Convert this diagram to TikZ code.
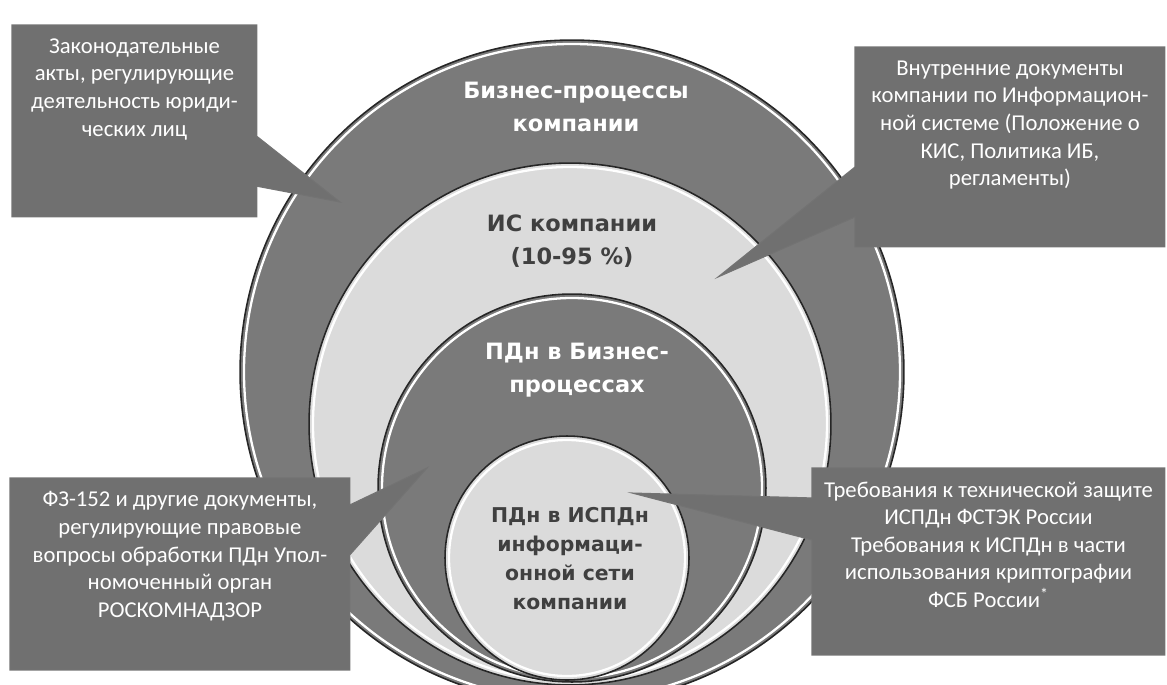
\documentclass[tikz,border=0pt]{standalone}
\usepackage{fontspec}
\setmainfont{Carlito}
\newfontfamily\ringfont{DejaVu Sans}
\usetikzlibrary{positioning,calc}
\definecolor{ringdark}{gray}{0.48}
\definecolor{ringlight}{gray}{0.86}
\definecolor{boxgray}{gray}{0.44}
\definecolor{textdark}{gray}{0.25}
\tikzset{
  disc/.style={circle, draw=black!85, line width=0.9pt, inner sep=0pt, outer sep=0pt},
  glint/.style={white, line width=1.3pt},
  callout/.style={fill=boxgray, draw=black!55, line width=0.6pt},
  boxframe/.style={rectangle, inner sep=0pt, outer sep=0pt, anchor=north west},
  boxtext/.style={text=white, align=center, font=\fontsize{12.9}{15.7}\selectfont},
  ringtext/.style={align=center, font=\ringfont\bfseries\fontsize{12.8}{18.5}\selectfont}
}
\newcommand{\ring}[5]{\node(#1)[disc, fill=#2, minimum size=#3] at (#4) {};
  \draw[glint] (#1.center) circle (#5);}

\begin{document}
\begin{tikzpicture}[x=0.02cm, y=-0.02cm, node distance=0.15cm]
\useasboundingbox (0,0) rectangle (1167,684);
\clip (0,0) rectangle (1167,684);

\ring{bp}{ringdark}{13.28cm}{572,372}{328}
\ring{is}{ringlight}{10.44cm}{570,424}{257}
\ring{pdbp}{ringdark}{7.76cm}{572,488}{190}
\ring{pdis}{ringlight}{4.88cm}{567,558}{118}

\node(bptext)[ringtext, text=white] at (576,107) {Бизнес-процессы\\компании};
\node(istext)[ringtext, text=textdark] at (572,241) {ИС компании\\(10-95 \%)};
\node(pdbptext)[ringtext, text=white] at (577,370) {ПДн в Бизнес-\\процессах};
\node(pdistext)[ringtext, text=textdark, font=\ringfont\bfseries\fontsize{11.6}{16.5}\selectfont] at (570,559)
  {ПДн в ИСПДн\\информаци-\\онной сети\\компании};

\node(lawbox)[boxframe, minimum width=4.9cm, minimum height=3.84cm] at (12,25) {};
\node(docbox)[boxframe, minimum width=6.2cm, minimum height=4cm] at (855,47) {};
\node(fzbox)[boxframe, minimum width=6.8cm, minimum height=3.84cm] at (10,478) {};
\node(techbox)[boxframe, minimum width=7.06cm, minimum height=3.74cm] at (812,468) {};

\coordinate(lawtip) at (340,202);
\coordinate(doctip) at (718,277);
\coordinate(fztip) at (427,468);
\coordinate(techtip) at (632,493);

\filldraw[callout] (lawbox.north west) -- (lawbox.north east)
  -- ($(lawbox.north east)!0.58!(lawbox.south east)$) -- (lawtip)
  -- ($(lawbox.north east)!0.84!(lawbox.south east)$)
  -- (lawbox.south east) -- (lawbox.south west) -- cycle;
\filldraw[callout] (docbox.north west) -- (docbox.north east)
  -- (docbox.south east) -- (docbox.south west)
  -- ($(docbox.north west)!0.85!(docbox.south west)$) -- (doctip)
  -- ($(docbox.north west)!0.6!(docbox.south west)$) -- cycle;
\filldraw[callout] (fzbox.north west) -- (fzbox.north east)
  -- ($(fzbox.north east)!0.14!(fzbox.south east)$) -- (fztip)
  -- ($(fzbox.north east)!0.4!(fzbox.south east)$)
  -- (fzbox.south east) -- (fzbox.south west) -- cycle;
\filldraw[callout] (techbox.north west) -- (techbox.north east)
  -- (techbox.south east) -- (techbox.south west)
  -- ($(techbox.north west)!0.385!(techbox.south west)$) -- (techtip)
  -- ($(techbox.north west)!0.16!(techbox.south west)$) -- cycle;

\node(lawtext)[boxtext, below=of lawbox.north]
  {Законодательные\\акты, регулирующие\\деятельность юриди-\\ческих лиц};
\node(doctext)[boxtext, below=of docbox.north]
  {Внутренние документы\\компании по Информацион-\\ной системе (Положение о\\КИС, Политика ИБ,\\регламенты)};
\node(fztext)[boxtext, below=of fzbox.north]
  {ФЗ-152 и другие документы,\\регулирующие правовые\\вопросы обработки ПДн Упол-\\номоченный орган\\РОСКОМНАДЗОР};
\node(techtext)[boxtext, below=of techbox.north]
  {Требования к технической защите\\ИСПДн ФСТЭК России\\Требования к ИСПДн в части\\использования криптографии\\ФСБ России\textsuperscript{*}};

\end{tikzpicture}
\end{document}
